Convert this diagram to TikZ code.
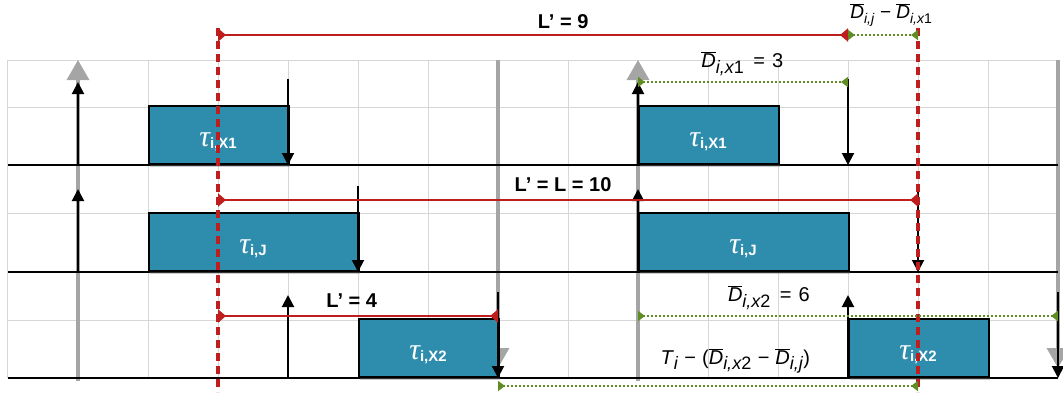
\documentclass[tikz,border=0pt]{standalone}
\usepackage{fontspec}
\setmainfont{Liberation Sans}
\newfontfamily\greekfont{Liberation Serif}
\usetikzlibrary{arrows.meta,shadows}
\definecolor{taskblue}{RGB}{46,141,173}
\definecolor{cutred}{RGB}{190,30,30}
\definecolor{gapgreen}{RGB}{95,140,35}
\definecolor{gridgray}{RGB}{215,215,215}
\definecolor{periodgray}{RGB}{165,165,165}
\newcommand{\Dbar}[2][14]{$\overline{\mbox{\itshape D}}_{\mbox{\fontsize{#1}{#1}\selectfont\itshape #2}}$}
\newcommand{\tasktau}[1]{{\greekfont\itshape\fontsize{30}{30}\selectfont τ}\raisebox{-2pt}{\fontsize{15}{15}\selectfont\bfseries #1}}
\tikzset{
  gridline/.style={gridgray, line width=1pt},
  axisline/.style={black, line width=2pt},
  periodline/.style={periodgray, line width=3.5pt,
                     -{Triangle[width=22pt,length=20pt]}},
  jobarrow/.style={black, line width=2pt,
                   -{Triangle[width=12pt,length=12pt]}},
  taskbox/.style={draw=black, fill=taskblue, line width=2pt, inner sep=0pt,
                  anchor=south west, minimum height=58pt,
                  drop shadow={opacity=0.4, shadow xshift=1pt, shadow yshift=-3pt}},
  tasklabel/.style={text=white, inner sep=0pt},
  cutline/.style={cutred, line width=3.5pt, dash pattern=on 8pt off 5pt},
  latspan/.style={cutred, line width=2pt,
                  {Triangle[reversed,width=13pt,length=8pt]}-{Triangle[reversed,width=13pt,length=8pt]}},
  gapspan/.style={gapgreen, line width=2pt, dotted,
                  {Triangle[reversed,width=10pt,length=7pt]}-{Triangle[reversed,width=10pt,length=7pt]}},
  latlabel/.style={font=\fontsize{20}{20}\selectfont\bfseries, inner sep=0pt},
  gaplabel/.style={font=\fontsize{20}{22}\selectfont, inner sep=0pt}
}
\begin{document}
\begin{tikzpicture}[x=70pt, y=-1pt]
  \useasboundingbox (-8/70,0) rectangle (1055/70,399);

  \foreach \t in {0,...,15}
    \draw[gridline] (\t,60) -- (\t,378);
  \foreach \y in {60,107,213,320}
    \draw[gridline] (0,\y) -- (15,\y);

  \foreach \t in {1,9}
    \draw[periodline] (\t,381) -- (\t,60);
  \foreach \t in {7,15}
    \draw[periodline] (\t,60) -- (\t,368);

  \foreach \y in {165,272,378}
    \draw[axisline] (0,\y) -- (15,\y);

  \node[taskbox, minimum width=140pt] (X1a) at (2,165) {};
  \node[taskbox, minimum width=140pt] (X1b) at (9,165) {};
  \node[taskbox, minimum width=210pt] (Ja)  at (2,272) {};
  \node[taskbox, minimum width=210pt] (Jb)  at (9,272) {};
  \node[taskbox, minimum width=140pt] (X2a) at (5,378) {};
  \node[taskbox, minimum width=140pt] (X2b) at (12,378) {};

  \node[tasklabel] (lX1a) at (3,142)    {\tasktau{i,X1}};
  \node[tasklabel] (lX1b) at (10,142)   {\tasktau{i,X1}};
  \node[tasklabel] (lJa)  at (3.5,249)  {\tasktau{i,J}};
  \node[tasklabel] (lJb)  at (10.5,249) {\tasktau{i,J}};
  \node[tasklabel] (lX2a) at (6,355)    {\tasktau{i,X2}};
  \node[tasklabel] (lX2b) at (13,355)   {\tasktau{i,X2}};

  \foreach \t/\a in {1/165,9/165,1/272,9/272,4/378,12/378}
    \draw[jobarrow] (\t,\a) -- (\t,\a-83);
  \foreach \t/\a in {4/165,12/165,5/272,13/272,7/378,15/378}
    \draw[jobarrow] (\t,\a-86) -- (\t,\a);

  \foreach \t in {3,13}
    \draw[cutline] (\t,28) -- (\t,392);

  \draw[latspan] (3,35) -- (12,35);
  \draw[latspan] (3,200) -- (13,200);
  \draw[latspan] (3,316) -- (7,316);
  \node[latlabel] (L9)  at (7.93,22)  {L’ = 9};
  \node[latlabel] (L10) at (7.93,185) {L’ = L = 10};
  \node[latlabel] (L4)  at (4.91,301) {L’ = 4};

  \draw[gapspan] (12,35) -- (13,35);
  \draw[gapspan] (9,82) -- (12,82);
  \draw[gapspan] (9,316) -- (15,316);
  \draw[gapspan] (7,386) -- (13,386);
  \node[gaplabel, font=\fontsize{19}{21}\selectfont] (gDj) at (12.62,15)
    {\Dbar{i,j} − \Dbar{i,x\upshape 1}};
  \node[gaplabel] (gDx1) at (10.49,64)
    {\Dbar[18]{i,x\upshape 1}\hspace{9pt}=\hspace{7pt}3};
  \node[gaplabel] (gDx2) at (10.87,298)
    {\Dbar[18]{i,x\upshape 2}\hspace{9pt}=\hspace{7pt}6};
  \node[gaplabel] (gT)   at (10.39,361)
    {\textit{T}$_{\mbox{\fontsize{18}{18}\selectfont\itshape i}}$\hspace{6pt}−\hspace{6pt}(\Dbar[18]{i,x\upshape 2}\hspace{6pt}−\hspace{6pt}\Dbar[18]{i,j})};
\end{tikzpicture}
\end{document}
